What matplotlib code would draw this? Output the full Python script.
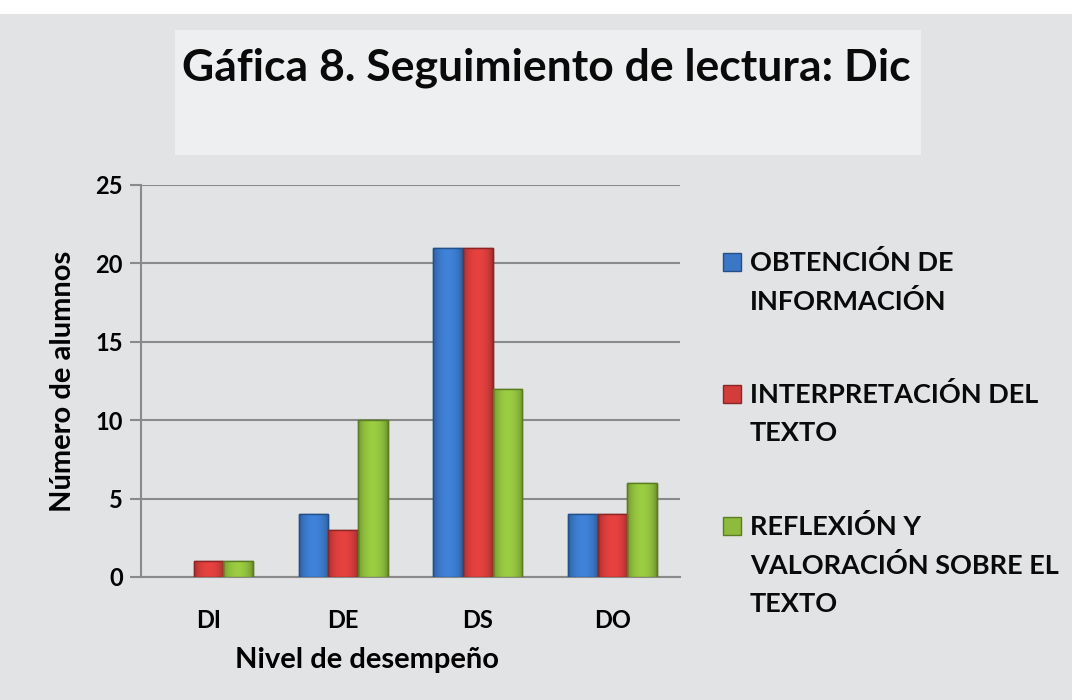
import matplotlib
matplotlib.use('Agg')
import matplotlib.pyplot as plt
import matplotlib.colors as mcolors
import numpy as np
from matplotlib.patches import Rectangle

categories = ['DI', 'DE', 'DS', 'DO']
obtencion = [0, 4, 21, 4]
interpretacion = [1, 3, 21, 4]
reflexion = [1, 10, 12, 6]
series_names = ['OBTENCIÓN DE\nINFORMACIÓN', 'INTERPRETACIÓN DEL\nTEXTO',
                'REFLEXIÓN Y\nVALORACIÓN SOBRE EL\nTEXTO']
yticks = [0, 5, 10, 15, 20, 25]

plt.rcParams['font.family'] = ['Lato', 'DejaVu Sans']
plt.rcParams['font.weight'] = 'bold'

W, H = 1072, 700
bg = '#e2e3e5'
fig = plt.figure(figsize=(W / 100, H / 100), dpi=100, facecolor=bg)

def fx(px):
    return px / W

def fy(py):
    return 1 - py / H

# white strip on top, then the title box
fig.patches.append(Rectangle((0, fy(14)), 1, 14 / H, transform=fig.transFigure,
                             facecolor='white', edgecolor='none', zorder=0))
fig.patches.append(Rectangle((fx(175), fy(155)), 746 / W, 125 / H,
                             transform=fig.transFigure, facecolor='#eeeff0',
                             edgecolor='none', zorder=0))
fig.text(fx(546), fy(80), 'Gáfica 8. Seguimiento de lectura: Dic',
         ha='center', va='baseline', fontsize=32, fontweight='bold', color='#0a0a0a')

ax = fig.add_axes([fx(141), fy(577), 539 / W, 392 / H])
ax.set_facecolor('none')

x = np.arange(len(categories))
w = 0.22
colors = ['#3a77c6', '#d23c3a', '#8dbb3c']
edges = ['#24508a', '#8a2624', '#5b7d22']
data = [obtencion, interpretacion, reflexion]

t = np.linspace(0, 1, 32)
shade = 0.75 + 0.35 * np.sin(np.pi * t) ** 0.6
for i, (vals, c, e) in enumerate(zip(data, colors, edges)):
    lw = [1 if v > 0 else 0 for v in vals]
    bars = ax.bar(x + (i - 1) * w, vals, w, color=c, edgecolor=e, linewidth=lw, zorder=3)
    rgb = np.array(mcolors.to_rgb(c))
    grad = np.clip(shade[None, :, None] * rgb[None, None, :], 0, 1)
    for b in bars:
        if b.get_height() <= 0:
            continue
        x0, y0 = b.get_x(), b.get_y()
        im = ax.imshow(grad, extent=[x0, x0 + b.get_width(), y0, y0 + b.get_height()],
                       aspect='auto', zorder=3.2, interpolation='bilinear')
        im.set_clip_path(b)
    ax.bar(x + (i - 1) * w, vals, w, color='none', edgecolor=e, linewidth=lw, zorder=3.4)

ax.set_xlim(-0.5, 3.5)
ax.set_ylim(0, 25)
ax.set_yticks(yticks)
ax.set_xticks(x)
ax.set_xticklabels(categories)
ax.grid(axis='y', color='#8a8a8a', linewidth=1.5, zorder=0)
for s in ['top', 'right']:
    ax.spines[s].set_visible(False)
for s in ['left', 'bottom']:
    ax.spines[s].set_color('#8a8a8a')
    ax.spines[s].set_linewidth(1.5)
ax.tick_params(axis='y', length=8, width=1.5, color='#8a8a8a', labelsize=17, pad=5)
ax.tick_params(axis='x', length=0, labelsize=17, pad=23)
for tl in ax.get_xticklabels() + ax.get_yticklabels():
    tl.set_fontweight('bold')

ax.set_ylabel('Número de alumnos', fontsize=21, fontweight='bold')
ax.yaxis.set_label_coords(-(141 - 63) / 539, 0.5)
ax.yaxis.label.set_va('center')
ax.set_xlabel('Nivel de desempeño', fontsize=21, fontweight='bold')
ax.xaxis.set_label_coords((367 - 141) / 539, -(660 - 577) / 392)
ax.xaxis.label.set_va('center')

# legend drawn by hand: square + wrapped label lines
first_base = [271, 403, 535]
for c, e, name, yb in zip(colors, edges, series_names, first_base):
    fig.patches.append(Rectangle((fx(723), fy(yb)), 18 / W, 18 / H,
                                 transform=fig.transFigure, facecolor=c,
                                 edgecolor=e, linewidth=1, zorder=3))
    for k, line in enumerate(name.split('\n')):
        fig.text(fx(750), fy(yb + 38.5 * k), line, ha='left', va='baseline',
                 fontsize=19.5, fontweight='bold', color='#0a0a0a')

fig.savefig('out.png', dpi=100, facecolor=bg)
